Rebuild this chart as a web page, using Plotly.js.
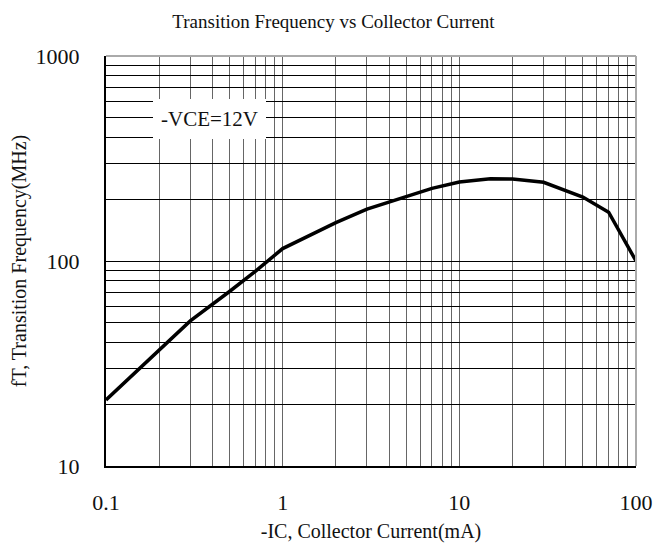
<!DOCTYPE html>
<html>
<head>
<meta charset="utf-8">
<script src="https://cdn.plot.ly/plotly-3.0.1.min.js"></script>
<style>html,body{margin:0;padding:0;background:#fff;}#chart{width:667px;height:552px;}</style>
</head>
<body>
<div id="chart"></div>
<script>
const currentMA = [0.1, 0.2, 0.3, 0.5, 0.7, 1, 2, 3, 5, 7, 10, 15, 20, 30, 50, 70, 100];
const fTMHz = [21, 37, 51, 71, 89, 115, 154, 179, 207, 226, 243, 252, 251, 242, 205, 173, 100];

const xDecades = [0.1, 1, 10];
const yDecades = [10, 100];
const xTickLabels = ["0.1", "1", "10", "100"];
const yTickLabels = ["10", "100", "1000"];

const xGrid = [], xText = [];
xDecades.forEach((d, i) => { for (let m = 1; m <= 9; m++) { xGrid.push(+(d*m).toPrecision(3)); xText.push(m === 1 ? xTickLabels[i] : ""); } });
xGrid.push(100); xText.push(xTickLabels[3]);
const yGrid = [], yText = [];
yDecades.forEach((d, i) => { for (let m = 1; m <= 9; m++) { yGrid.push(d*m); yText.push(m === 1 ? yTickLabels[i] : ""); } });
yGrid.push(1000); yText.push(yTickLabels[2]);

const font = "'Liberation Serif', 'Times New Roman', serif";

Plotly.newPlot("chart", [{
  x: currentMA, y: fTMHz, type: "scatter", mode: "lines",
  line: {color: "#000", width: 3.5}, hoverinfo: "skip"
}], {
  width: 667, height: 552, autosize: false,
  margin: {l: 105.5, r: 31, t: 56, b: 86, pad: 0},
  paper_bgcolor: "#fff", plot_bgcolor: "#fff",
  font: {family: font, size: 20, color: "#111"},
  showlegend: false,
  title: {text: "Transition Frequency vs Collector Current", x: 0.5, xanchor: "center", y: 0.962, yanchor: "middle", font: {family: font, size: 19, color: "#111"}},
  xaxis: {
    type: "log", range: [-1, 2], tickmode: "array", tickvals: xGrid, ticktext: xText,
    showgrid: true, gridcolor: "#666", gridwidth: 1, ticks: "", zeroline: false,
    showline: true, linecolor: "#000", linewidth: 2,
    tickfont: {family: font, size: 22, color: "#111"}, ticklabelstandoff: 16,
    title: {text: "-IC, Collector Current(mA)", font: {family: font, size: 20, color: "#111"}, standoff: 10}
  },
  yaxis: {
    type: "log", range: [1, 3], tickmode: "array", tickvals: yGrid, ticktext: yText,
    showgrid: true, gridcolor: "#000", gridwidth: 1, ticks: "", zeroline: false,
    showline: true, linecolor: "#000", linewidth: 2,
    tickfont: {family: font, size: 22, color: "#111"}, ticklabelstandoff: 20,
    title: {text: "fT, Transition Frequency(MHz)", font: {family: font, size: 20, color: "#111"}, standoff: 4}
  },
  shapes: [
    {type: "line", xref: "paper", yref: "paper", x0: 0, x1: 1, y0: 1, y1: 1, line: {color: "#aaa", width: 2}},
    {type: "line", xref: "paper", yref: "paper", x0: 1, x1: 1, y0: 0, y1: 1, line: {color: "#aaa", width: 2}}
  ],
  annotations: [{
    xref: "paper", yref: "paper", x: (153 - 105.5) / 530.5, y: (466 - 119) / 410, xanchor: "left", yanchor: "middle",
    text: "-VCE=12V", showarrow: false, bgcolor: "#fff", borderpad: 8, borderwidth: 0,
    font: {family: font, size: 21, color: "#111"}
  }]
}, {displayModeBar: false, staticPlot: true});
</script>
</body>
</html>
